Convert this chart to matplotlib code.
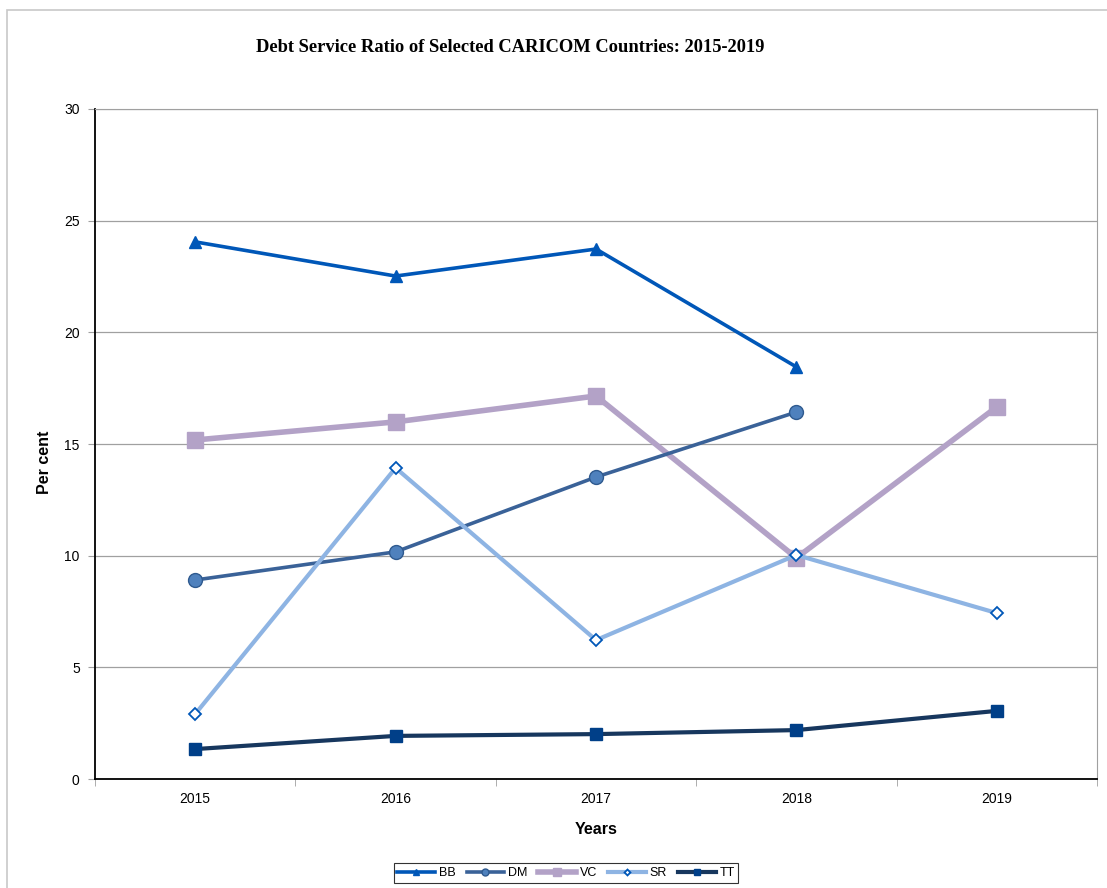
import numpy as np
import matplotlib.pyplot as plt
from matplotlib.patches import Rectangle

years = ["2015", "2016", "2017", "2018", "2019"]
bb = [24.05, 22.52, 23.73, 18.45]
dm = [8.91, 10.17, 13.52, 16.43]
vc = [15.18, 15.99, 17.15, 9.90, 16.66]
sr = [2.91, 13.93, 6.22, 10.03, 7.43]
tt = [1.34, 1.93, 2.01, 2.19, 3.05]

plt.rcParams['font.family'] = ['Liberation Sans', 'DejaVu Sans']

fig = plt.figure(figsize=(11.07, 8.88), dpi=100)
ax = fig.add_axes([95 / 1107, 109 / 888, 1002 / 1107, 670 / 888])

# cadre exterieur gris
fig.patches.append(Rectangle((7 / 1107, -0.1), 1.2, (878 / 888) + 0.1, transform=fig.transFigure,
                             fill=False, edgecolor="#c8c8c8", linewidth=1.2))

x = np.arange(len(years))

ax.plot(x[:4], bb, color="#0057B8", lw=2.6, marker="^", ms=9, mfc="#0057B8", mec="#0057B8", label="BB", zorder=5)
ax.plot(x[:4], dm, color="#3A6298", lw=2.6, marker="o", ms=10, mfc="#4F81BD", mec="#2F5A8F", label="DM", zorder=4)
ax.plot(x, vc, color="#B3A2C7", lw=4, marker="s", ms=12, mfc="#B3A2C7", mec="#B3A2C7", label="VC", zorder=3)
ax.plot(x, sr, color="#8EB4E3", lw=3, marker="D", ms=6, mfc="white", mec="#0057B8", mew=1.3, label="SR", zorder=6)
ax.plot(x, tt, color="#17375E", lw=3, marker="s", ms=9, mfc="#003F88", mec="#003F88", label="TT", zorder=6)

ax.set_xlim(-0.5, 4.5)
ax.set_ylim(0, 30)
ax.set_yticks(np.arange(0, 31, 5))
ax.yaxis.grid(True, color="#a0a0a0", lw=0.9)
ax.set_axisbelow(True)

ax.set_xticks(x)
ax.set_xticklabels(years)
ax.set_xticks(np.arange(-0.5, 4.6, 1), minor=True)
ax.tick_params(axis="x", which="major", length=0, pad=9, labelsize=10)
ax.tick_params(axis="x", which="minor", length=5, color="#a0a0a0")
ax.tick_params(axis="y", length=5, color="#a0a0a0", pad=6, labelsize=10)

ax.spines["left"].set_color("black")
ax.spines["bottom"].set_color("black")
ax.spines["left"].set_linewidth(1.3)
ax.spines["bottom"].set_linewidth(1.3)
ax.spines["top"].set_color("#a0a0a0")
ax.spines["right"].set_color("#a0a0a0")

ax.set_ylabel("Per cent", fontsize=11.5, fontweight="bold")
ax.yaxis.set_label_coords(-0.043, 0.473)
ax.set_xlabel("Years", fontsize=11.5, fontweight="bold", labelpad=12)

fig.text(510 / 1107, 1 - 48 / 888, "Debt Service Ratio of Selected CARICOM Countries: 2015-2019",
         ha="center", va="center", fontsize=13.3, fontweight="bold", family="Liberation Serif")

leg = fig.legend(loc="center", bbox_to_anchor=(566 / 1107, 1 - 873 / 888), ncol=5, fontsize=9,
                 frameon=True, fancybox=False, edgecolor="black", handlelength=3.0,
                 columnspacing=0.9, handletextpad=0.3, borderpad=0.3, markerscale=0.5)
leg.get_frame().set_linewidth(0.8)

plt.savefig("out.png", dpi=100)
